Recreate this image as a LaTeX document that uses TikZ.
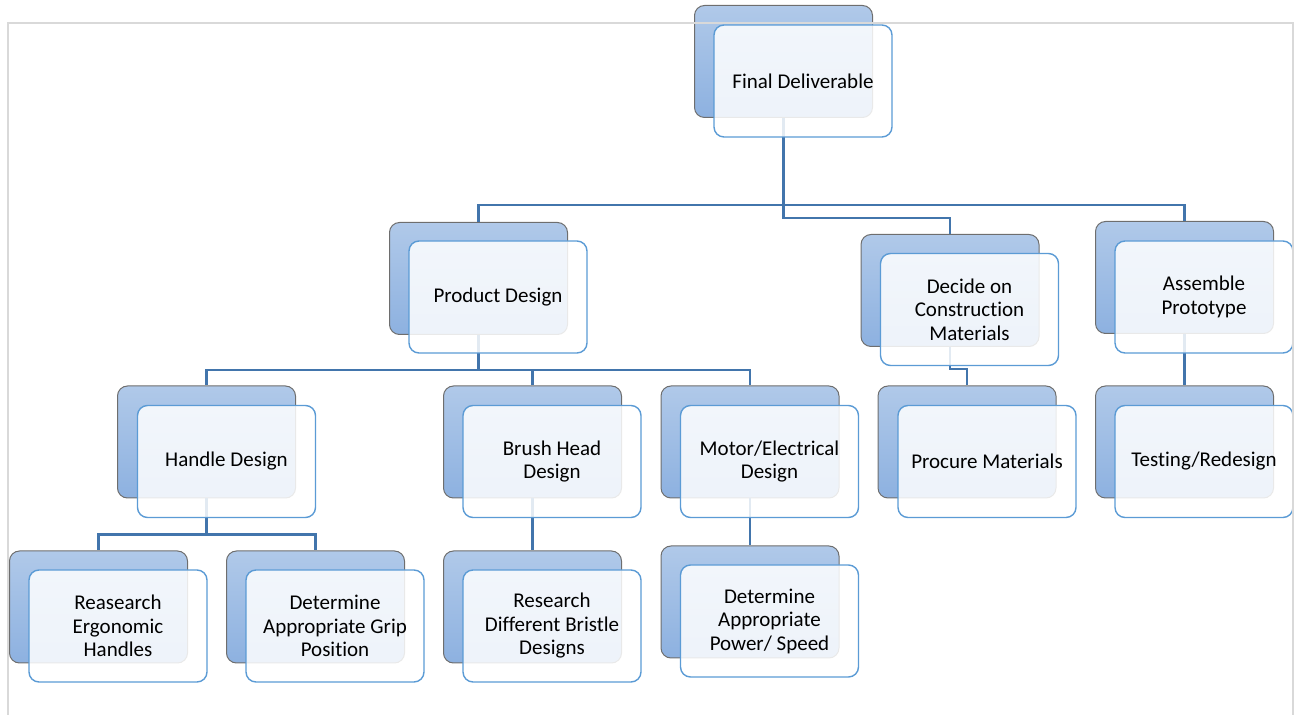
\documentclass[tikz,border=0pt]{standalone}
\usepackage{fontspec}
\setmainfont{Carlito}[Ligatures=NoCommon]
\definecolor{boxtop}{RGB}{176,201,233}
\definecolor{boxbot}{RGB}{141,177,224}
\definecolor{boxedge}{RGB}{110,110,110}
\definecolor{frontedge}{RGB}{91,155,213}
\definecolor{linkblue}{RGB}{66,117,172}
\definecolor{framegray}{RGB}{217,217,217}

\begin{document}
\begin{tikzpicture}[x=0.5pt,y=-0.5pt,
    back/.style={draw=boxedge,line width=0.5pt,rounded corners=5pt,top color=boxtop,bottom color=boxbot,
        minimum width=89pt,minimum height=56pt,inner sep=0pt},
    front/.style={draw=frontedge,line width=0.7pt,rounded corners=5pt,fill=white,fill opacity=0.85,
        text opacity=1,minimum width=89pt,minimum height=56pt,inner sep=0pt,align=center,
        font=\fontsize{10.5}{11.75}\selectfont},
    link/.style={draw=linkblue,line width=1.2pt}]

                \useasboundingbox (0,0) rectangle (1296,715);

                % shaded boxes behind
                \begin{scope}[every node/.style={back}]
                    \node (finalB) at (783.5,61.5) {};
                    \node (pdB) at (478.5,278.5) {};
                    \node (decideB) at (950,290.5) {};
                    \node (assembleB) at (1184.5,277.5) {};
                    \node (handleB) at (206.5,442) {};
                    \node (brushB) at (532.5,442) {};
                    \node (motorB) at (750,442) {};
                    \node (procureB) at (967,442) {};
                    \node (testingB) at (1184.5,442) {};
                    \node (ergoB) at (98.5,607) {};
                    \node (gripB) at (315.5,607) {};
                    \node (bristleB) at (532.5,607) {};
                    \node (powerB) at (750,602) {};
                \end{scope}

                \begin{scope}[every path/.style={link}]
                    \path (finalB.south) -- ++(0,87) -| (pdB.north);
                    \path (finalB.south) -- ++(0,87) -| (assembleB.north);
                    \path (finalB.south) -- ++(0,100) -| (decideB.north);

                    \path (pdB.south) -- ++(0,35) -| (handleB.north);
                    \path (pdB.south) -- ++(0,35) -| (brushB.north);
                    \path (pdB.south) -- ++(0,35) -| (motorB.north);
                    \path (decideB.south) -- ++(0,22) -| (procureB.north);
                    \path (assembleB.south) -- (testingB.north);

                    \path (handleB.south) -- ++(0,36) -| (ergoB.north);
                    \path (handleB.south) -- ++(0,36) -| (gripB.north);
                    \path (brushB.south) -- (bristleB.north);
                    \path (motorB.south) -- (powerB.north);
                \end{scope}

                % light boxes in front
                \begin{scope}[every node/.style={front}]
                    \node (final) at (803,81) {Final Deliverable};
                    \node (pd) at (498,297) {Product Design};
                    \node (decide) at (969.5,309.5) {Decide on\\Construction\\Materials};
                    \node (assemble) at (1204,297) {Assemble\\Prototype};
                    \node (handle) at (226.5,461.5) {Handle Design};
                    \node (brush) at (552,461.5) {Brush Head\\Design};
                    \node (motor) at (769.5,461.5) {Motor/Electrical\\Design};
                    \node (procure) at (987,461.5) {Procure Materials};
                    \node (testing) at (1204,461.5) {Testing/Redesign};
                    \node (ergo) at (118,626) {Reasearch\\Ergonomic\\Handles};
                    \node (grip) at (335,626) {Determine\\Appropriate Grip\\Position};
                    \node (bristle) at (552,626) {Research\\Different Bristle\\Designs};
                    \node (power) at (769.5,621) {Determine\\Appropriate\\Power/ Speed};
                \end{scope}

                \draw[framegray,line width=1pt] (8,715) -- (8,23) -- (1292.5,23) -- (1292.5,715);
\end{tikzpicture}
\end{document}
